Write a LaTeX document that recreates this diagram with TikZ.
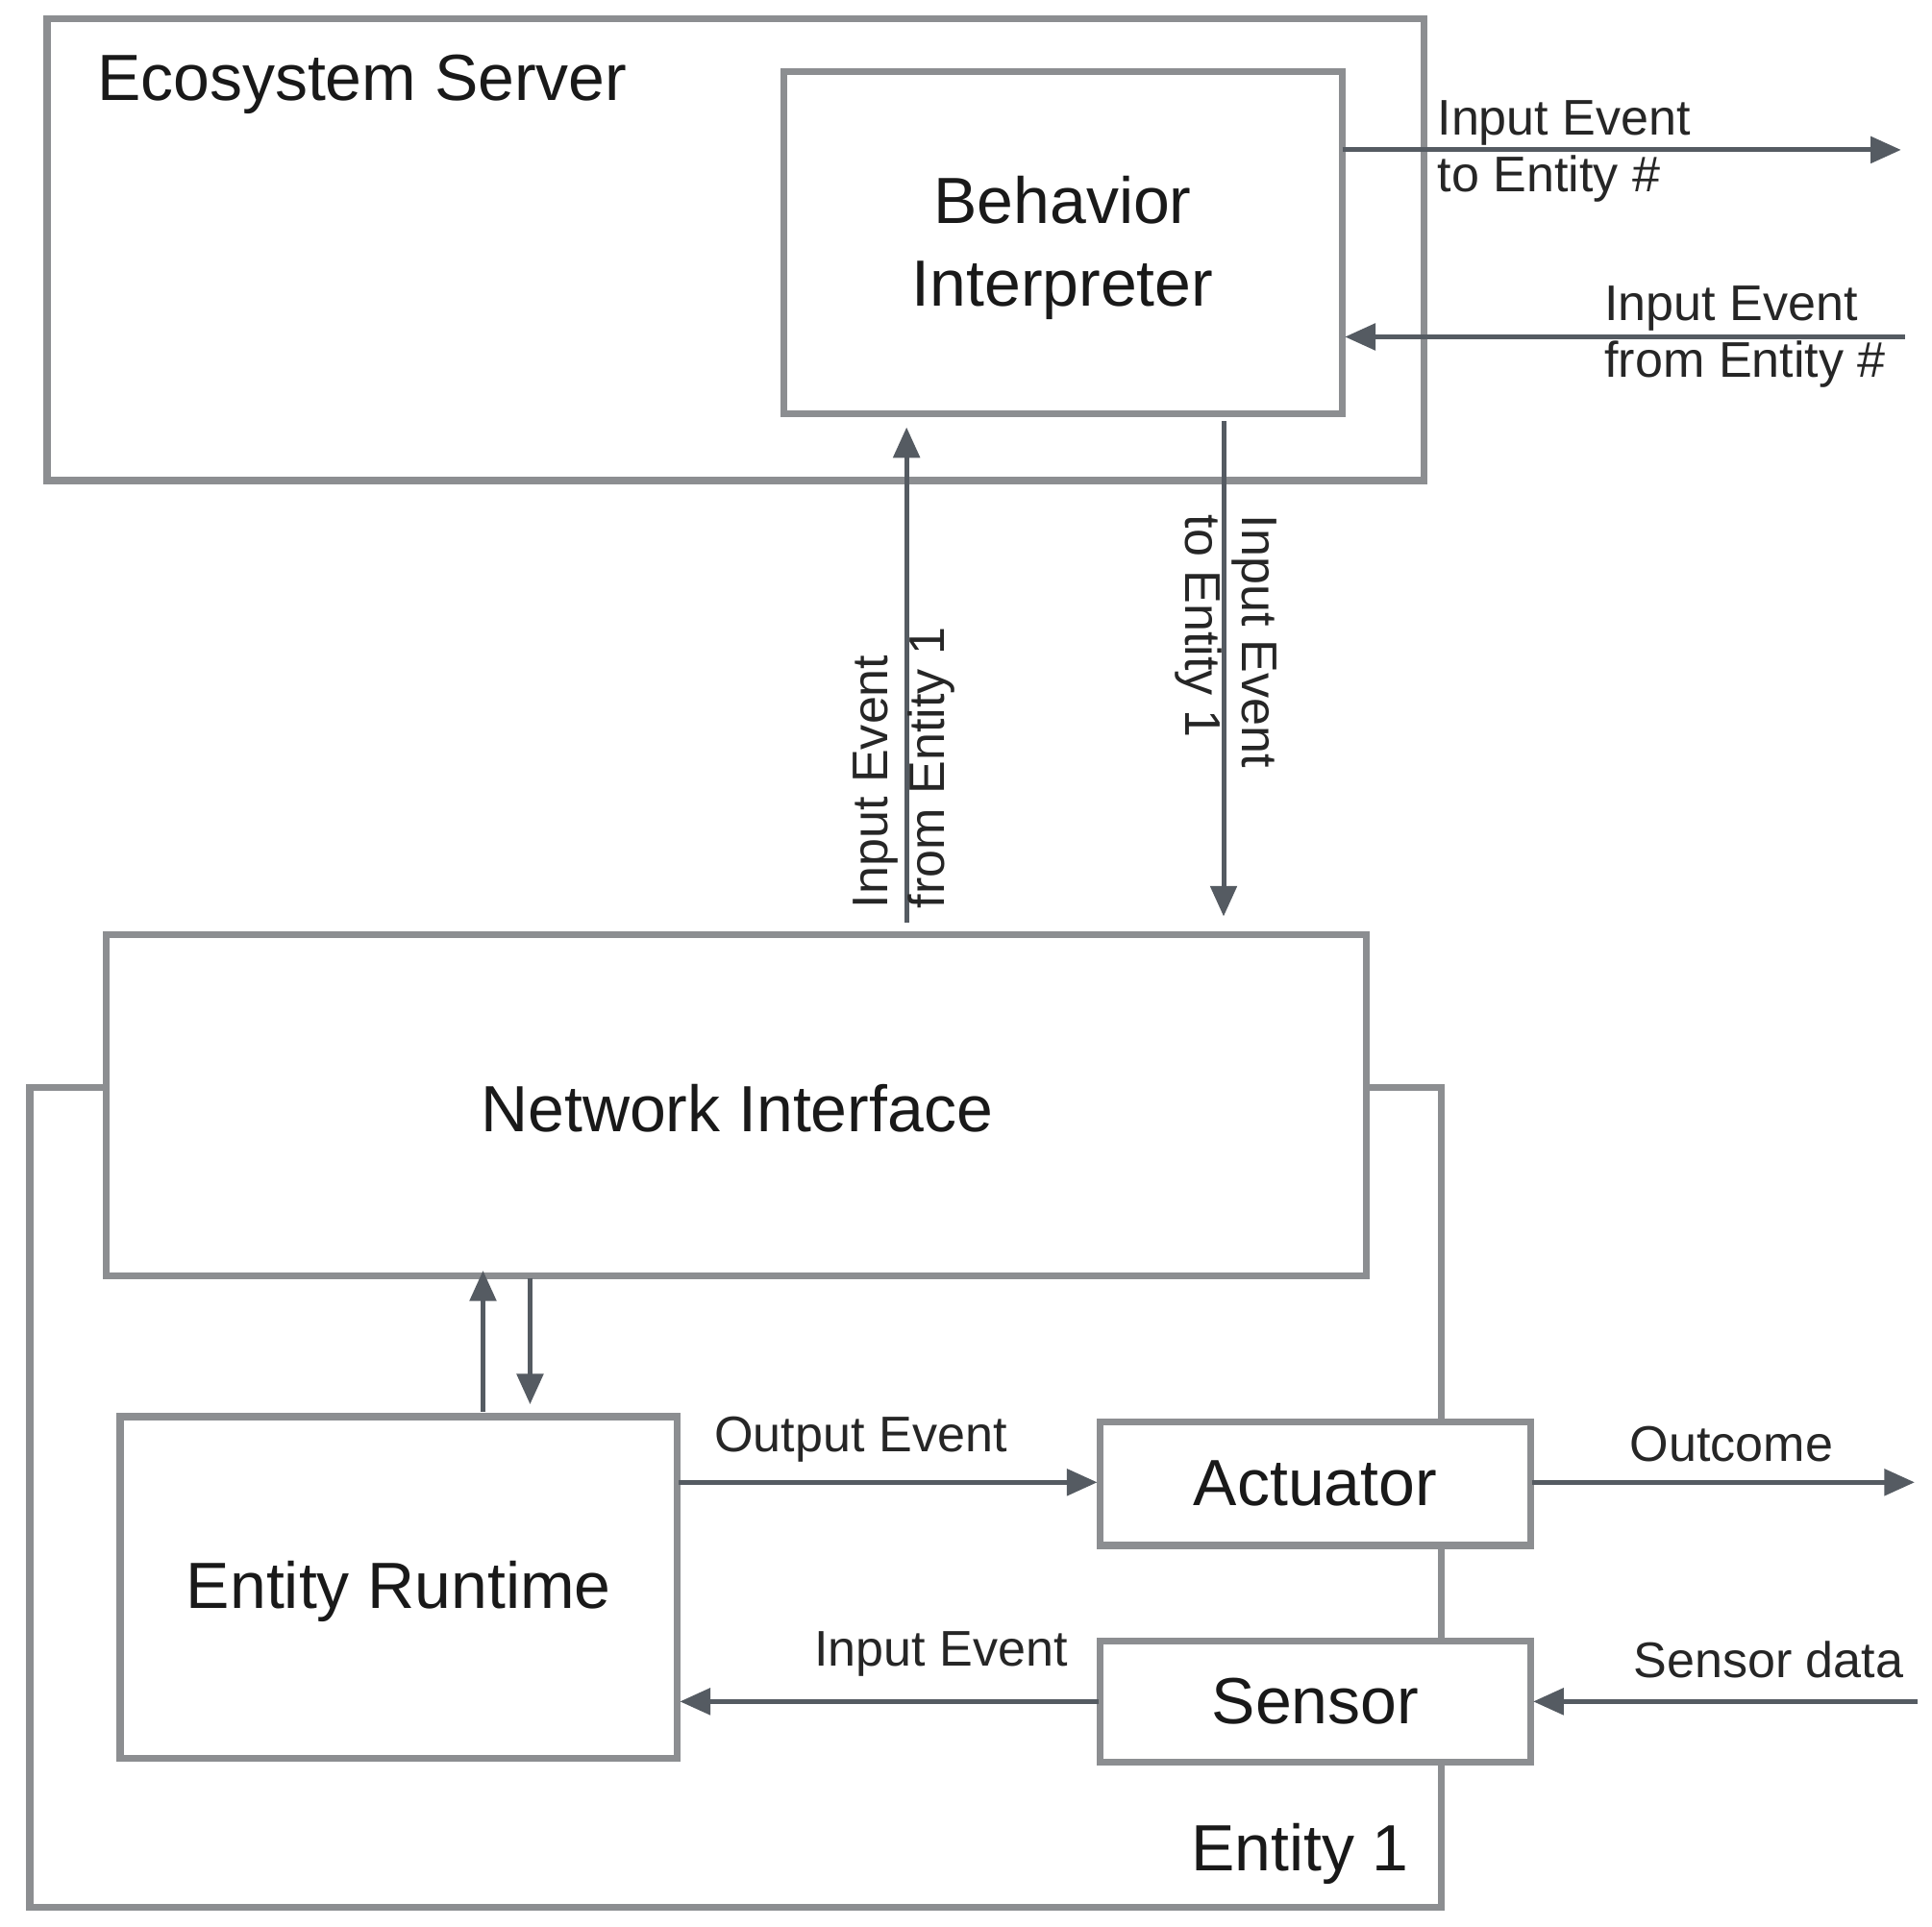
\documentclass[tikz,border=0pt]{standalone}
\usepackage{fontspec}
\setmainfont{Liberation Sans}
\usetikzlibrary{arrows.meta}
\definecolor{boxc}{HTML}{8C8E91}
\definecolor{arrc}{HTML}{555B62}
\begin{document}
\begin{tikzpicture}[x=0.01cm,y=-0.01cm,
  box/.style={draw=boxc,line width=1.6pt,fill=white},
  arr/.style={draw=arrc,line width=1.1pt,-{Triangle[length=7pt,width=6pt]}},
  lbl/.style={font=\fontsize{11.5}{13}\selectfont,text=black!85,align=left,inner sep=0pt},
  big/.style={font=\fontsize{15}{19}\selectfont,text=black!90,align=center}]
\useasboundingbox (0,0) rectangle (1560,1556);
% Ecosystem server
\draw[box] (38,15) rectangle (1150,388);
\node[big,anchor=west] (es) at (66,68) {Ecosystem Server};
\draw[box] (633,58) rectangle (1084,334);
\node[big] (bi) at (858,200) {Behavior\\Interpreter};
\coordinate (bo1) at (1084,121); \coordinate (bo2) at (1535,121);
\draw[arr] (bo1) -- (bo2);
\node[lbl,anchor=west] (l1) at (1160,122) {Input Event\\to Entity \#};
\coordinate (bi1) at (1538,272); \coordinate (bi2) at (1086,272);
\draw[arr] (bi1) -- (bi2);
\node[lbl,anchor=west] (l2) at (1295,272) {Input Event\\from Entity \#};
% Entity outline
\draw[box] (24,878) rectangle (1164,1540);
\node[big,anchor=east] (e1) at (1150,1497) {Entity 1};
% Network interface
\draw[box] (86,755) rectangle (1103,1030);
\node[big] (ni) at (595,895) {Network Interface};
\coordinate (u1) at (732,745); \coordinate (u2) at (732,345);
\draw[arr] (u1) -- (u2);
\node[lbl,rotate=90,anchor=center] (l3) at (730,620) {Input Event\\from Entity 1};
\coordinate (d1) at (988,340); \coordinate (d2) at (988,740);
\draw[arr] (d1) -- (d2);
\node[lbl,rotate=-90,anchor=center] (l4) at (990,518) {Input Event\\to Entity 1};
% Entity runtime
\draw[box] (97,1144) rectangle (547,1420);
\node[big] (er) at (322,1285) {Entity Runtime};
\coordinate (a1) at (390,1140); \coordinate (a2) at (390,1026);
\draw[arr] (a1) -- (a2);
\coordinate (b1) at (428,1032); \coordinate (b2) at (428,1134);
\draw[arr] (b1) -- (b2);
% Actuator, sensor
\draw[box] (888,1148) rectangle (1236,1248);
\node[big] (ac) at (1062,1198) {Actuator};
\draw[box] (888,1325) rectangle (1236,1423);
\node[big] (se) at (1062,1374) {Sensor};
\coordinate (o1) at (548,1197); \coordinate (o2) at (886,1197);
\draw[arr] (o1) -- (o2);
\node[lbl] (l5) at (695,1162) {Output Event};
\coordinate (oc1) at (1237,1197); \coordinate (oc2) at (1546,1197);
\draw[arr] (oc1) -- (oc2);
\node[lbl] (l6) at (1398,1166) {Outcome};
\coordinate (i1) at (887,1374); \coordinate (i2) at (549,1374);
\draw[arr] (i1) -- (i2);
\node[lbl] (l7) at (760,1336) {Input Event};
\coordinate (s1) at (1548,1374); \coordinate (s2) at (1238,1374);
\draw[arr] (s1) -- (s2);
\node[lbl] (l8) at (1428,1340) {Sensor data};
\end{tikzpicture}
\end{document}
